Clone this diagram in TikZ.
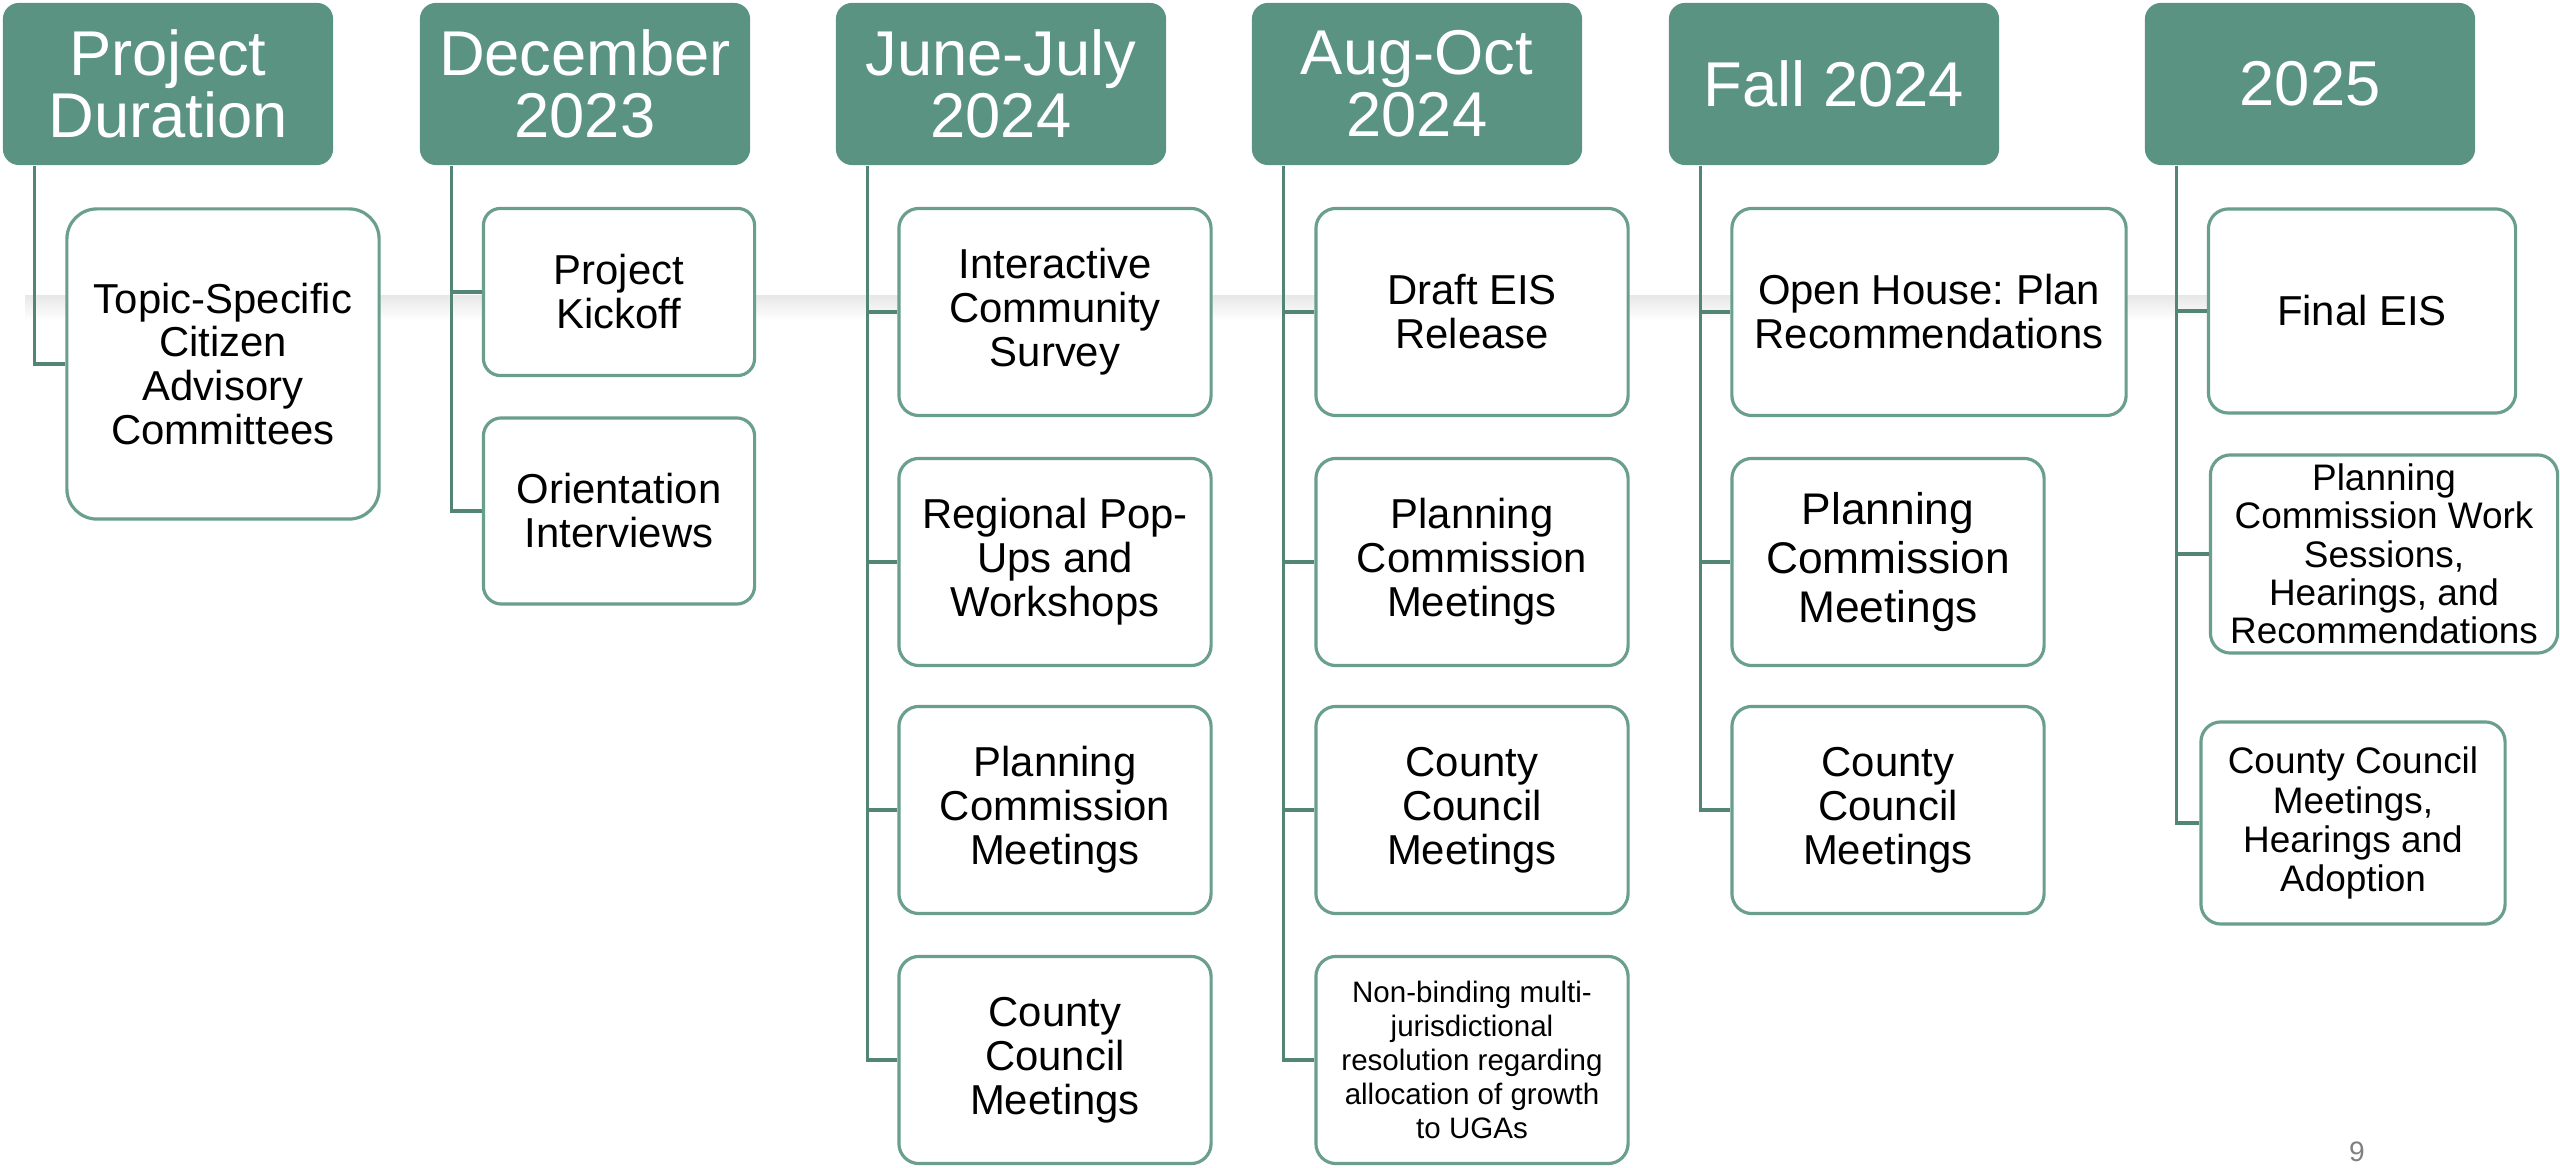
\documentclass[tikz,border=0pt]{standalone}
\usepackage{fontspec}
\setmainfont{Liberation Sans}
\usepackage{xcolor}
\usepackage{tikz}
\usetikzlibrary{positioning}

\definecolor{sage}{HTML}{5B9382}
\definecolor{sageline}{HTML}{6A9E8E}
\definecolor{sagedark}{HTML}{528574}

\begin{document}
\frenchspacing
\begin{tikzpicture}[x=0.01cm, y=-0.01cm,
        hdr/.style={rectangle, fill=sage, text=white, rounded corners=0.16cm, minimum width=3.3cm, minimum height=1.62cm, inner sep=0pt, align=center, font=\fontsize{18}{17.6}\selectfont},
        item/.style={rectangle, draw=sageline, line width=0.9pt, fill=white, rounded corners=0.2cm, minimum width=3.12cm, minimum height=2.07cm, inner sep=0pt, align=center, font=\fontsize{11.9}{12.5}\selectfont},
        link/.style={draw=sagedark, line width=0.9pt}
    ]
    \useasboundingbox[fill=white] (0,0) rectangle (2560,1168);

    % faint band behind the boxes
    \shade[top color=black!9, bottom color=white] (25,296) rectangle (2500,320);

    % headers
    \node[hdr] (PD) at (168,84) {Project\\Duration};
    \node[hdr] (DEC) at (585,84) {December\\2023};
    \node[hdr] (JJ) at (1001,84) {June-July\\2024};
    \node[hdr] (AO) at (1417,84) {Aug-Oct\\2024};
    \node[hdr] (FALL) at (1834,84) {Fall 2024};
    \node[hdr] (YR) at (2310,84) {2025};

    % items
    \node[item, minimum height=3.1cm, rounded corners=0.3cm] (PD1) at (223,364) {Topic-Specific\\Citizen\\Advisory\\Committees};

    \node[item, minimum width=2.71cm, minimum height=1.67cm, rounded corners=0.17cm] (DEC1) at (619,292) {Project\\Kickoff};
    \node[item, minimum width=2.71cm, minimum height=1.86cm, rounded corners=0.18cm] (DEC2) at (619,511) {Orientation\\Interviews};

    \node[item] (JJ1) at (1055,312) {Interactive\\Community\\Survey};
    \node[item] (JJ2) at (1055,562) {Regional Pop-\\Ups and\\Workshops};
    \node[item] (JJ3) at (1055,810) {Planning\\Commission\\Meetings};
    \node[item] (JJ4) at (1055,1060) {County\\Council\\Meetings};

    \node[item] (AO1) at (1472,312) {Draft EIS\\Release};
    \node[item] (AO2) at (1472,562) {Planning\\Commission\\Meetings};
    \node[item] (AO3) at (1472,810) {County\\Council\\Meetings};
    \node[item, font=\fontsize{8.4}{9.7}\selectfont] (AO4) at (1472,1060) {Non-binding multi-\\jurisdictional\\resolution regarding\\allocation of growth\\to UGAs};

    \node[item, minimum width=3.94cm] (FALL1) at (1929,312) {Open House: Plan\\Recommendations};
    \node[item, font=\fontsize{12.6}{14}\selectfont] (FALL2) at (1888,562) {Planning\\Commission\\Meetings};
    \node[item] (FALL3) at (1888,810) {County\\Council\\Meetings};

    \node[item, minimum width=3.07cm, minimum height=2.04cm] (YR1) at (2362,311) {Final EIS};
    \node[item, minimum width=3.47cm, minimum height=1.98cm, font=\fontsize{10.5}{10.9}\selectfont] (YR2) at (2384,554) {Planning\\Commission Work\\Sessions,\\Hearings, and\\Recommendations};
    \node[item, minimum width=3.04cm, minimum height=2.02cm, font=\fontsize{10.5}{11.1}\selectfont] (YR3) at (2353,823) {County Council\\Meetings,\\Hearings and\\Adoption};

    % connectors
    \coordinate (PDt) at ([xshift=0.32cm]PD.south west);
    \coordinate (DECt) at ([xshift=0.32cm]DEC.south west);
    \coordinate (JJt) at ([xshift=0.32cm]JJ.south west);
    \coordinate (AOt) at ([xshift=0.32cm]AO.south west);
    \coordinate (FALLt) at ([xshift=0.32cm]FALL.south west);
    \coordinate (YRt) at ([xshift=0.32cm]YR.south west);

    \draw[link] (PDt) |- (PD1.west);
    \foreach \b in {DEC1,DEC2} \draw[link] (DECt) |- (\b.west);
    \foreach \b in {JJ1,JJ2,JJ3,JJ4} \draw[link] (JJt) |- (\b.west);
    \foreach \b in {AO1,AO2,AO3,AO4} \draw[link] (AOt) |- (\b.west);
    \foreach \b in {FALL1,FALL2,FALL3} \draw[link] (FALLt) |- (\b.west);
    \foreach \b in {YR1,YR2,YR3} \draw[link] (YRt) |- (\b.west);

    % page number
    \node[text=gray, inner sep=0pt, anchor=base, font=\fontsize{8}{9}\selectfont] (pg) at (2357,1162) {9};
\end{tikzpicture}
\end{document}
